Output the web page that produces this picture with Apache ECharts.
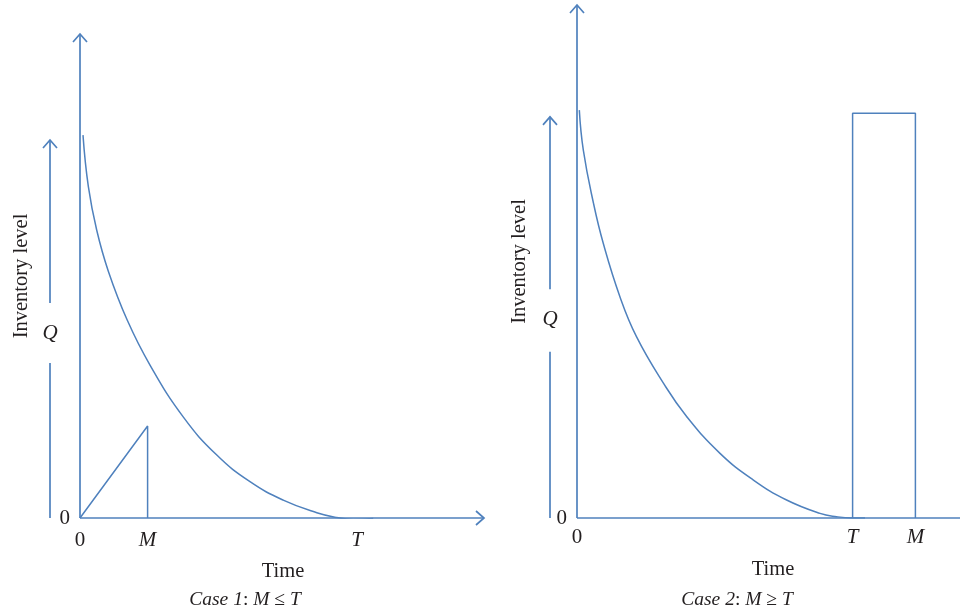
<!DOCTYPE html>
<html>
<head>
<meta charset="utf-8">
<script src="https://cdn.jsdelivr.net/npm/echarts@6/dist/echarts.min.js"></script>
<style>html,body{margin:0;padding:0;background:#fff}#c{width:960px;height:616px}</style>
</head>
<body>
<div id="c"></div>
<script>
// ---- data ----
const leftCurveT = [0.75, 2.08, 4.17, 7.08, 11.8, 17.5, 25.8, 34.2, 42.5, 50.8, 59.2, 64.2, 68.3, 73.3];
const leftCurveQ = [79.1, 68.5, 59.5, 51.0, 40.9, 31.6, 20.9, 13.0, 7.5, 3.7, 1.1, 0.1, -0.3, -0.1];
const leftTriT = [0, 16.9, 16.9];
const leftTriQ = [0, 19.0, 0];
const rightCurveT = [0.58, 1.58, 4.08, 6.58, 10.75, 14.9, 21.6, 27.4, 35.75, 44.1, 52.4, 60.75, 64.9, 68.75, 72];
const rightCurveQ = [79.5, 71.7, 61.5, 53.5, 43.1, 35.3, 26.3, 19.8, 12.6, 7.4, 3.5, 0.9, 0.25, 0, 0];
const rightRectT = [68.9, 68.9, 84.6, 84.6];
const rightRectQ = [0, 78.9, 78.9, 0];
// arrows: [x1, y1, x2, y2, hasHead]
const leftArrows = [[0, 0, 0, 100, 1], [0, 0, 101, 0, 1], [-7.5, 0, -7.5, 32.0, 0], [-7.5, 44.4, -7.5, 78.1, 1]];
const rightArrows = [[0, 0, 0, 100, 1], [0, 0, 95.75, 0, 0], [-6.75, 0, -6.75, 32.4, 0], [-6.75, 44.6, -6.75, 78.2, 1]];
const leftTickValues = [0, 16.9, 69.25];
const leftTickLabels = ['0', 'M', 'T'];
const rightTickValues = [0, 68.9, 84.6];
const rightTickLabels = ['0', 'T', 'M'];
const leftQPos = [-7.5, 38.2];
const rightQPos = [-6.75, 38.6];

// ---- styles ----
const BLUE = '#4F81BD';
const TXT = '#231F20';
const FONT = 'Liberation Serif';

function zip(a, b) { return a.map((v, i) => [v, b[i]]); }
function tickFormatter(values, labels) {
  return function (v) {
    for (let i = 0; i < values.length; i++) {
      if (Math.abs(values[i] - v) < 1e-6) {
        const l = labels[i];
        return l === '0' ? '{n|0}' : '{i|' + l + '}';
      }
    }
    return '';
  };
}
const rich = {
  n: { fontFamily: FONT, fontSize: 21, color: TXT },
  i: { fontFamily: FONT, fontSize: 21, color: TXT, fontStyle: 'italic' }
};

function renderArrow(params, api) {
  const p1 = api.coord([api.value(0), api.value(1)]);
  const p2 = api.coord([api.value(2), api.value(3)]);
  const children = [{
    type: 'line',
    shape: { x1: p1[0], y1: p1[1], x2: p2[0], y2: p2[1] },
    style: { stroke: BLUE, lineWidth: 1.7 }
  }];
  if (api.value(4)) {
    const dx = p2[0] - p1[0], dy = p2[1] - p1[1];
    const len = Math.hypot(dx, dy);
    const ux = dx / len, uy = dy / len;
    const back = 8, half = 7;
    const bx = p2[0] - ux * back, by = p2[1] - uy * back;
    const nx = -uy, ny = ux;
    children.push({
      type: 'polyline',
      shape: { points: [[bx + nx * half, by + ny * half], [p2[0], p2[1]], [bx - nx * half, by - ny * half]] },
      style: { stroke: BLUE, lineWidth: 1.7, fill: null }
    });
  }
  return { type: 'group', children: children };
}

function xAxisFor(idx, max, vals, labs, margin) {
  return {
    type: 'value', gridIndex: idx, min: -10, max: max,
    axisLine: { show: false, onZero: false }, axisTick: { show: false }, splitLine: { show: false },
    axisLabel: { show: true, customValues: vals, formatter: tickFormatter(vals, labs), margin: margin, rich: rich }
  };
}
function yAxisFor(idx, gap, margin) {
  return {
    type: 'value', gridIndex: idx, min: 0, max: 100, offset: -40,
    axisLine: { show: false, onZero: false }, axisTick: { show: false }, splitLine: { show: false },
    axisLabel: { show: true, customValues: [0], formatter: () => '{n|0}', margin: margin, rich: rich },
    name: 'Inventory level', nameLocation: 'middle', nameRotate: 90, nameGap: gap,
    nameTextStyle: { fontFamily: FONT, fontSize: 20.5, color: TXT }
  };
}

const lineStyle = { color: BLUE, width: 1.5 };

const capRich = {
  i: { fontFamily: FONT, fontSize: 19.5, fontStyle: 'italic', fill: TXT },
  n: { fontFamily: FONT, fontSize: 19.5, fill: TXT }
};
const qLabel = {
  show: true, position: 'inside', formatter: 'Q', color: TXT, textBorderWidth: 0,
  fontFamily: FONT, fontSize: 21, fontStyle: 'italic', opacity: 1
};

const option = {
  animation: false,
  backgroundColor: '#fff',
  grid: [
    { left: 40, right: 476, top: 34, bottom: 98, outerBoundsMode: 'none', containLabel: false },
    { left: 537, right: 0, top: 5, bottom: 98, outerBoundsMode: 'none', containLabel: false }
  ],
  xAxis: [
    xAxisFor(0, 101, leftTickValues, leftTickLabels, 12),
    xAxisFor(1, 95.75, rightTickValues, rightTickLabels, 9)
  ],
  yAxis: [
    yAxisFor(0, 48, 10),
    yAxisFor(1, 47, 10)
  ],
  series: [
    { type: 'custom', xAxisIndex: 0, yAxisIndex: 0, renderItem: renderArrow, data: leftArrows, encode: { x: [0, 2], y: [1, 3] }, silent: true },
    { type: 'custom', xAxisIndex: 1, yAxisIndex: 1, renderItem: renderArrow, data: rightArrows, encode: { x: [0, 2], y: [1, 3] }, silent: true },
    { type: 'line', xAxisIndex: 0, yAxisIndex: 0, data: zip(leftCurveT, leftCurveQ), smooth: 0.45, showSymbol: false, symbol: 'none', lineStyle: lineStyle },
    { type: 'line', xAxisIndex: 0, yAxisIndex: 0, data: zip(leftTriT, leftTriQ), showSymbol: false, symbol: 'none', lineStyle: lineStyle },
    { type: 'line', xAxisIndex: 1, yAxisIndex: 1, data: zip(rightCurveT, rightCurveQ), smooth: 0.45, showSymbol: false, symbol: 'none', lineStyle: lineStyle },
    { type: 'line', xAxisIndex: 1, yAxisIndex: 1, data: zip(rightRectT, rightRectQ), showSymbol: false, symbol: 'none', lineStyle: lineStyle },
    { type: 'scatter', xAxisIndex: 0, yAxisIndex: 0, data: [leftQPos], symbolSize: 0, clip: false, itemStyle: { opacity: 1 }, label: qLabel },
    { type: 'scatter', xAxisIndex: 1, yAxisIndex: 1, data: [rightQPos], symbolSize: 0, clip: false, itemStyle: { opacity: 1 }, label: qLabel }
  ],
  graphic: [
    { type: 'text', x: 283, y: 572, style: { text: 'Time', align: 'center', verticalAlign: 'middle', fontFamily: FONT, fontSize: 20.5, fill: TXT } },
    { type: 'text', x: 773, y: 570, style: { text: 'Time', align: 'center', verticalAlign: 'middle', fontFamily: FONT, fontSize: 20.5, fill: TXT } },
    { type: 'text', x: 245, y: 600, style: { text: '{i|Case 1}{n|: }{i|M}{n| ≤ }{i|T}', align: 'center', verticalAlign: 'middle', rich: capRich } },
    { type: 'text', x: 737, y: 600, style: { text: '{i|Case 2}{n|: }{i|M}{n| ≥ }{i|T}', align: 'center', verticalAlign: 'middle', rich: capRich } }
  ]
};

const chart = echarts.init(document.getElementById('c'), null, { renderer: 'canvas' });
chart.setOption(option);
</script>
</body>
</html>
